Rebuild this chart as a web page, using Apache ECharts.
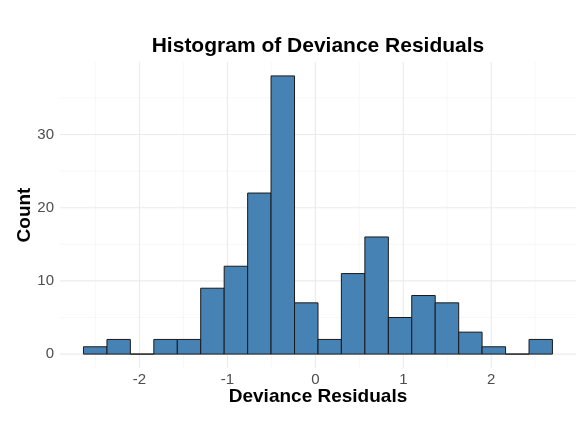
<!DOCTYPE html>
<html>
<head>
<meta charset="utf-8">
<script src="https://cdn.jsdelivr.net/npm/echarts@6/dist/echarts.min.js"></script>
<style>
  html, body { margin: 0; padding: 0; background: #fff; }
  #chart { width: 577px; height: 431px; }
</style>
</head>
<body>
<div id="chart"></div>
<script>
// histogram bins: edges (21) and counts (20)
var binEdges = [-2.637, -2.370, -2.104, -1.837, -1.570, -1.304, -1.037, -0.770, -0.504, -0.237,
                0.030, 0.296, 0.563, 0.830, 1.096, 1.363, 1.630, 1.896, 2.163, 2.430, 2.696];
var counts = [1, 2, 0, 2, 2, 9, 12, 22, 38, 7, 2, 11, 16, 5, 8, 7, 3, 1, 0, 2];

// ticks / grid lines
var xTicks = [-2, -1, 0, 1, 2];
var xMinor = [-2.5, -1.5, -0.5, 0.5, 1.5, 2.5];
var yTicks = [0, 10, 20, 30];
var yMinor = [5, 15, 25, 35];

var xRange = [-2.904, 2.964];
var yRange = [-1.9, 39.9];

var chart = echarts.init(document.getElementById('chart'));

// vertical / horizontal grid line drawer
function gridLine(dir, color, width) {
	return function(params, api) {
		var cs = params.coordSys;
		var v = api.value(0);
		var p = api.coord(dir == 'x' ? [v, 0] : [0, v]);
		var shape = dir == 'x'
			? { x1: p[0], y1: cs.y, x2: p[0], y2: cs.y + cs.height }
			: { x1: cs.x, y1: p[1], x2: cs.x + cs.width, y2: p[1] };
		return { type: 'line', shape: shape, style: { stroke: color, lineWidth: width } };
	};
}

function gridSeries(vals, dir, color, width) {
	return {
		type: 'custom',
		silent: true,
		z: 1,
		renderItem: gridLine(dir, color, width),
		data: vals.map(function(v) { return [v]; })
	};
}

var option = {
	backgroundColor: '#fff',
	animation: false,
	textStyle: { fontFamily: 'Liberation Sans' },
	graphic: [{
		type: 'text',
		x: 318,
		y: 46,
		style: {
			text: 'Histogram of Deviance Residuals',
			font: 'bold 21px "Liberation Sans"',
			fill: '#000',
			align: 'center',
			verticalAlign: 'middle'
		}
	}],
	grid: { left: 60, right: 1, top: 62, bottom: 63, containLabel: false },
	xAxis: {
		type: 'value',
		min: xRange[0],
		max: xRange[1],
		splitLine: { show: false },
		axisLine: { show: false },
		axisTick: { show: false },
		axisLabel: {
			customValues: xTicks,
			color: '#4d4d4d',
			fontSize: 15,
			margin: 4
		},
		name: 'Deviance Residuals',
		nameLocation: 'middle',
		nameGap: 19,
		nameMoveOverlap: false,
		nameTextStyle: { fontSize: 19, fontWeight: 'bold', color: '#000' }
	},
	yAxis: {
		type: 'value',
		min: yRange[0],
		max: yRange[1],
		splitLine: { show: false },
		axisLine: { show: false },
		axisTick: { show: false },
		axisLabel: {
			customValues: yTicks,
			color: '#4d4d4d',
			fontSize: 15,
			margin: 6
		},
		name: 'Count',
		nameLocation: 'middle',
		nameGap: 26,
		nameRotate: 90,
		nameMoveOverlap: false,
		nameTextStyle: { fontSize: 19, fontWeight: 'bold', color: '#000' }
	},
	series: [
		gridSeries(xMinor, 'x', '#f3f3f3', 0.6),
		gridSeries(yMinor, 'y', '#f3f3f3', 0.6),
		gridSeries(xTicks, 'x', '#ebebeb', 1.1),
		gridSeries(yTicks, 'y', '#ebebeb', 1.1),
		{
			type: 'custom',
			z: 2,
			renderItem: function(params, api) {
				var p0 = api.coord([api.value(0), api.value(2)]);
				var p1 = api.coord([api.value(1), 0]);
				return {
					type: 'rect',
					shape: { x: p0[0], y: p0[1], width: p1[0] - p0[0], height: p1[1] - p0[1] },
					style: { fill: '#4682b4', stroke: '#1a1a1a', lineWidth: 1 }
				};
			},
			data: counts.map(function(c, i) { return [binEdges[i], binEdges[i + 1], c]; })
		}
	]
};
chart.setOption(option);
</script>
</body>
</html>
